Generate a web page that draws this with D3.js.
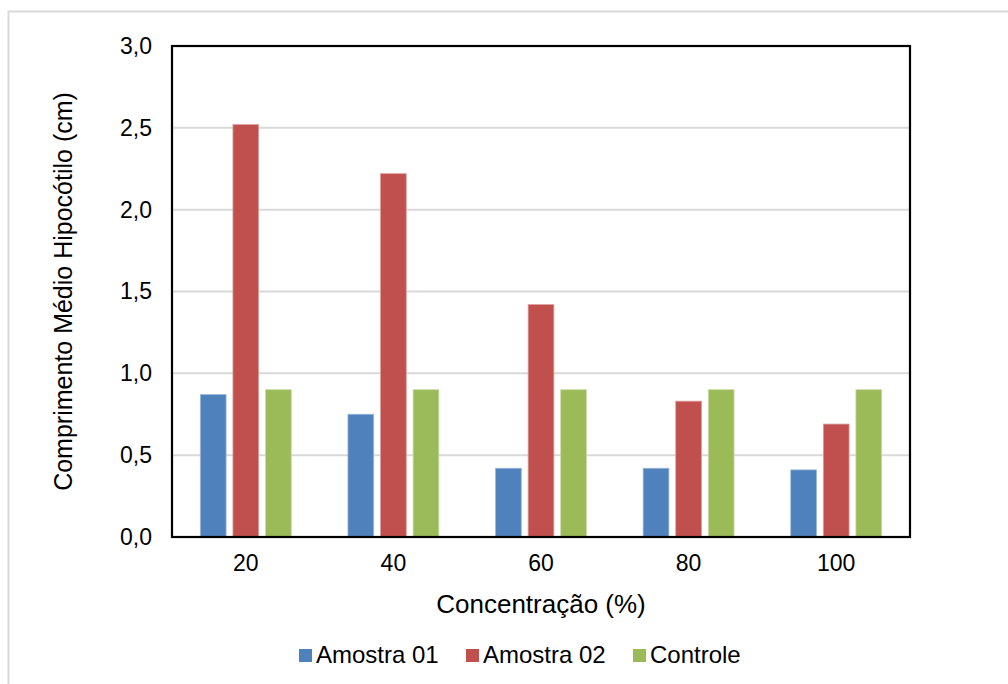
<!DOCTYPE html>
<html>
<head>
<meta charset="utf-8">
<script src="https://cdn.jsdelivr.net/npm/d3@7"></script>
<style>
  html, body { margin: 0; padding: 0; background: #fff; }
  svg { display: block; font-family: "Liberation Sans", Arial, sans-serif; }
</style>
</head>
<body>
<svg id="chart" width="1008" height="684"></svg>
<script>
// Concentrations tested (x categories)
const categories = ["20", "40", "60", "80", "100"];
// Mean hypocotyl length (cm) per series
const amostra01 = [0.87, 0.75, 0.42, 0.42, 0.41];
const amostra02 = [2.52, 2.22, 1.42, 0.83, 0.69];
const controle  = [0.90, 0.90, 0.90, 0.90, 0.90];
const seriesNames = ["Amostra 01", "Amostra 02", "Controle"];
const yTicks = [0, 0.5, 1.0, 1.5, 2.0, 2.5, 3.0];

const seriesValues = [amostra01, amostra02, controle];
const colors = ["#4F81BD", "#C0504D", "#9BBB59"];
const edgeColors = ["#9DB7DA", "#DDA09E", "#C8DAA6"];

const svg = d3.select("#chart");
const plot = { left: 172, top: 46, right: 910, bottom: 537 };

// outer chart frame
svg.append("rect")
  .attr("x", 8.5).attr("y", 11.5)
  .attr("width", 1100).attr("height", 800)
  .attr("fill", "#fff").attr("stroke", "#D9D9D9").attr("stroke-width", 2);

const x0 = d3.scaleBand().domain(categories).range([plot.left, plot.right]).paddingInner(0).paddingOuter(0);
const x1 = d3.scaleBand().domain(d3.range(seriesNames.length))
  .range([0, x0.bandwidth()]).paddingInner(0.21).paddingOuter(0.87);
const y = d3.scaleLinear().domain([0, 3]).range([plot.bottom, plot.top]);

// gridlines
svg.append("g").selectAll("line").data(yTicks.filter(t => t > 0 && t < 3)).join("line")
  .attr("x1", plot.left).attr("x2", plot.right)
  .attr("y1", d => y(d)).attr("y2", d => y(d))
  .attr("stroke", "#D9D9D9").attr("stroke-width", 2);

// bars
const groups = svg.append("g").selectAll("g").data(categories).join("g")
  .attr("transform", c => `translate(${x0(c)},0)`);
groups.selectAll("rect")
  .data((c, i) => seriesValues.map((vals, s) => ({ s, v: vals[i] })))
  .join("rect")
  .attr("x", d => x1(d.s))
  .attr("width", x1.bandwidth())
  .attr("y", d => y(d.v))
  .attr("height", d => y(0) - y(d.v))
  .attr("fill", d => colors[d.s])
  .attr("stroke", d => edgeColors[d.s])
  .attr("stroke-width", 0.8);

// plot frame
svg.append("rect")
  .attr("x", plot.left).attr("y", plot.top)
  .attr("width", plot.right - plot.left).attr("height", plot.bottom - plot.top)
  .attr("fill", "none").attr("stroke", "#000").attr("stroke-width", 2.2);

// y axis labels
const fmt = d => d3.format(".1f")(d).replace(".", ",");
const yAxis = d3.axisLeft(y).tickValues(yTicks).tickFormat(fmt).tickSize(0).tickPadding(20);
const gy = svg.append("g").attr("transform", `translate(${plot.left},0)`).call(yAxis);
gy.select(".domain").remove();
gy.selectAll("text").attr("font-size", 23).attr("fill", "#000")
  .attr("font-family", "Liberation Sans, Arial, sans-serif");

// x axis labels
const xAxis = d3.axisBottom(x0).tickSize(0).tickPadding(18);
const gx = svg.append("g").attr("transform", `translate(0,${plot.bottom})`).call(xAxis);
gx.select(".domain").remove();
gx.selectAll("text").attr("font-size", 23).attr("fill", "#000")
  .attr("font-family", "Liberation Sans, Arial, sans-serif");

// axis titles
svg.append("text")
  .attr("x", (plot.left + plot.right) / 2).attr("y", 613)
  .attr("text-anchor", "middle").attr("font-size", 26).attr("fill", "#000")
  .text("Concentração (%)");
svg.append("text")
  .attr("transform", `translate(72,${(plot.top + plot.bottom) / 2}) rotate(-90)`)
  .attr("text-anchor", "middle").attr("font-size", 25).attr("fill", "#000")
  .text("Comprimento Médio Hipocótilo (cm)");

// legend
const legendX = [299, 466, 633];
const legend = svg.append("g").selectAll("g").data(seriesNames).join("g")
  .attr("transform", (d, i) => `translate(${legendX[i]},649)`);
legend.append("rect").attr("width", 13).attr("height", 13).attr("fill", (d, i) => colors[i]);
legend.append("text").attr("x", 17).attr("y", 14)
  .attr("font-size", 24).attr("fill", "#000").text(d => d);
</script>
</body>
</html>
